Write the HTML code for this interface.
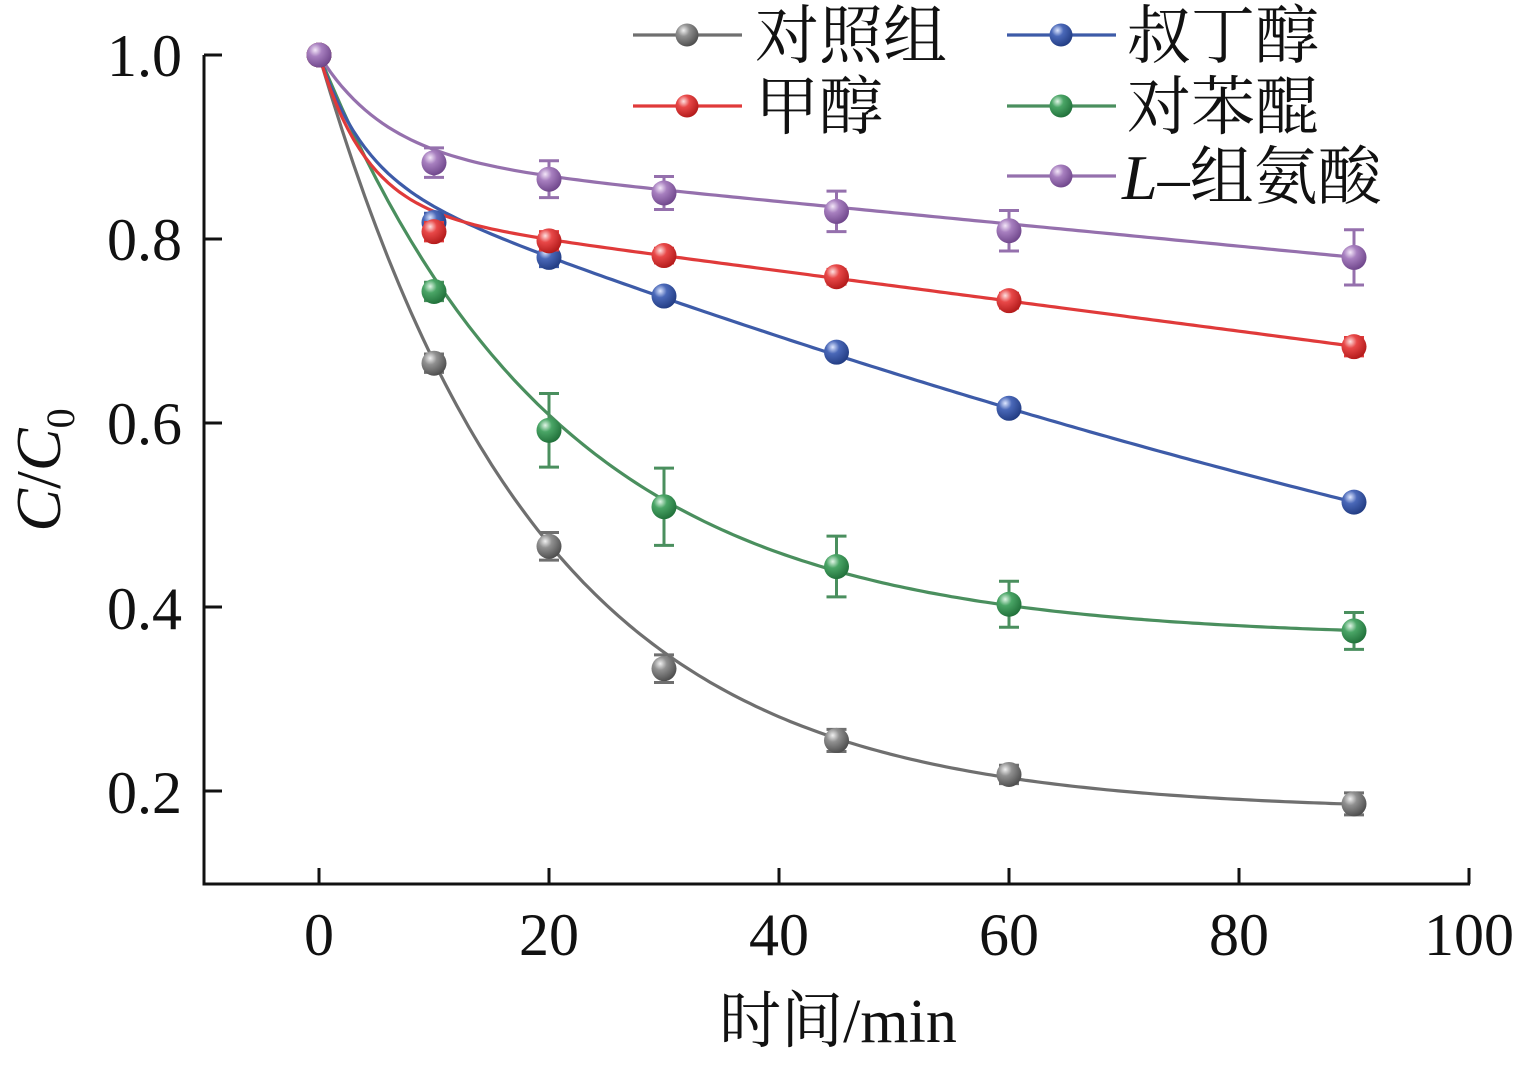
<!DOCTYPE html>
<html><head><meta charset="utf-8"><style>
html,body{margin:0;padding:0;background:#fff;}
svg text{font-family:"Liberation Serif","Noto Serif CJK SC",serif;fill:#111;}
</style></head><body>
<svg id="s" width="1529" height="1062" viewBox="0 0 1529 1062" xmlns="http://www.w3.org/2000/svg">
<defs>
<radialGradient id="g_gray" cx="0.35" cy="0.3" r="0.75"><stop offset="0" stop-color="#f0f0f0"/><stop offset="0.35" stop-color="#909090"/><stop offset="1" stop-color="#4a4a4a"/></radialGradient>
<radialGradient id="g_red" cx="0.35" cy="0.3" r="0.75"><stop offset="0" stop-color="#fde0e0"/><stop offset="0.35" stop-color="#e84848"/><stop offset="1" stop-color="#b01818"/></radialGradient>
<radialGradient id="g_blue" cx="0.35" cy="0.3" r="0.75"><stop offset="0" stop-color="#dde6ff"/><stop offset="0.35" stop-color="#4a68b8"/><stop offset="1" stop-color="#203a80"/></radialGradient>
<radialGradient id="g_green" cx="0.35" cy="0.3" r="0.75"><stop offset="0" stop-color="#e0f5e6"/><stop offset="0.35" stop-color="#4aa566"/><stop offset="1" stop-color="#1f6e38"/></radialGradient>
<radialGradient id="g_purple" cx="0.35" cy="0.3" r="0.75"><stop offset="0" stop-color="#f3e6f8"/><stop offset="0.35" stop-color="#a77fbf"/><stop offset="1" stop-color="#6d4489"/></radialGradient>
</defs>
<g id="axes" stroke="#111" stroke-width="3" fill="none">
<path d="M204,55 V884 H1470"/>
</g>
<g font-size="60" text-anchor="end">
<text x="182" y="76">1.0</text>
<text x="182" y="260">0.8</text>
<text x="182" y="444">0.6</text>
<text x="182" y="629">0.4</text>
<text x="182" y="813">0.2</text>
</g>
<g font-size="60" text-anchor="middle">
<text x="319" y="955">0</text>
<text x="549" y="955">20</text>
<text x="779" y="955">40</text>
<text x="1009" y="955">60</text>
<text x="1239" y="955">80</text>
<text x="1469" y="955">100</text>
</g>
<text x="838" y="1042" font-size="62" text-anchor="middle">时间/min</text>
<text transform="translate(60,470) rotate(-90)" font-size="64" text-anchor="middle"><tspan font-style="italic">C</tspan>/<tspan font-style="italic">C</tspan><tspan font-size="40" dy="14">0</tspan></text>
<g id="plot"></g>
<g font-size="64">
<text x="755" y="58">对照组</text>
<text x="755" y="129">甲醇</text>
<text x="1127" y="58">叔丁醇</text>
<text x="1127" y="129">对苯醌</text>
<text x="1122" y="199"><tspan font-style="italic">L</tspan>–组氨酸</text>
</g>
</svg>
<script>
var X=function(t){return 319+11.5*t;}, Y=function(v){return 55+(1-v)*920;};
var T=[0,10,20,30,45,60,90];
var S=[
 {c:'#6f6f6f',g:'g_gray',f:function(t){return 0.178+0.822*Math.exp(-0.052*t);},d:[1,0.665,0.466,0.333,0.255,0.218,0.186],e:[0,0.01,0.015,0.015,0.012,0.01,0.012],lx:633,ly:35},
 {c:'#4a8f5e',g:'g_green',f:function(t){return 0.366+0.634*Math.exp(-0.048*t);},d:[1,0.743,0.592,0.509,0.444,0.403,0.374],e:[0,0.01,0.04,0.042,0.033,0.025,0.02],lx:1007,ly:106},
 {c:'#3d5ba8',g:'g_blue',f:function(t){return 0.874-0.0049*t+0.00001*t*t+0.126*Math.exp(-0.26*t);},d:[1,0.818,0.780,0.738,0.677,0.616,0.514],e:[0,0.01,0.01,0.006,0.006,0.006,0.006],lx:1007,ly:35},
 {c:'#e03a3a',g:'g_red',f:function(t){return 0.831-0.00164*t+0.169*Math.exp(-0.24*t);},d:[1,0.808,0.798,0.782,0.759,0.733,0.683],e:[0,0.01,0.01,0.008,0.008,0.008,0.01],lx:633,ly:106},
 {c:'#9570ad',g:'g_purple',f:function(t){return 0.889-0.00121*t+0.111*Math.exp(-0.17*t);},d:[1,0.883,0.865,0.850,0.830,0.809,0.780],e:[0,0.016,0.02,0.018,0.022,0.022,0.03],lx:1007,ly:176}
];
var h='';
S.forEach(function(s){
 var p='';for(var t=0;t<=90;t+=0.5){p+=(t?'L':'M')+X(t).toFixed(1)+','+Y(s.f(t)).toFixed(1);}
 h+='<path d="'+p+'" fill="none" stroke="'+s.c+'" stroke-width="3.2"/>';
});
S.forEach(function(s){
 for(var i=0;i<T.length;i++){var x=X(T[i]),y=Y(s.d[i]),e=s.e[i]*920;
  if(e>0){h+='<path d="M'+x+','+(y-e)+'V'+(y+e)+'M'+(x-10)+','+(y-e)+'h20M'+(x-10)+','+(y+e)+'h20" stroke="'+s.c+'" stroke-width="3" fill="none"/>';}
  h+='<circle cx="'+x+'" cy="'+y+'" r="12.5" fill="url(#'+s.g+')"/>';}
 h+='<path d="M'+s.lx+','+s.ly+'h109" stroke="'+s.c+'" stroke-width="3.2"/><circle cx="'+(s.lx+54)+'" cy="'+s.ly+'" r="11.5" fill="url(#'+s.g+')"/>';
});
var tk='';[1,0.8,0.6,0.4,0.2].forEach(function(v){tk+='M204,'+Y(v)+'h18';});
[0,20,40,60,80,100].forEach(function(t){tk+='M'+X(t)+',884v-16';});
h+='<path d="'+tk+'" stroke="#111" stroke-width="3" fill="none"/>';
document.getElementById('plot').innerHTML=h;
</script>
</body></html>
